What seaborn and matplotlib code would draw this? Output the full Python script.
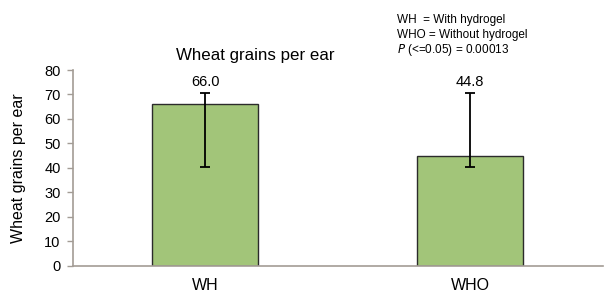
import pandas as pd
import matplotlib.pyplot as plt
import seaborn as sns

# Data
treatments = ['WH', 'WHO']
grains = [66.0, 44.8]
err_low = [25.5, 4.3]
err_high = [4.6, 25.8]
value_labels = ['66.0', '44.8']

df = pd.DataFrame({'treatment': treatments, 'grains': grains})

sns.set_style('white', {'text.color': 'black', 'axes.labelcolor': 'black',
                        'xtick.color': 'black', 'ytick.color': 'black'})
plt.rcParams['font.family'] = ['Liberation Sans', 'DejaVu Sans']

AXIS_COL = '#A39C95'
BAR_COL = '#A2C579'

fig = plt.figure(figsize=(6.04, 2.98), dpi=100)
ax = fig.add_axes([0.1209, 0.1074, 0.877, 0.6577])

sns.barplot(data=df, x='treatment', y='grains', color=BAR_COL, width=0.4,
            edgecolor='#2b2b2b', linewidth=1.0, saturation=1, errorbar=None, ax=ax)
ax.errorbar(range(len(treatments)), grains, yerr=[err_low, err_high], fmt='none',
            ecolor='black', elinewidth=1.3, capsize=3.5, capthick=1.3)

for i, (v, hi, lab) in enumerate(zip(grains, err_high, value_labels)):
    ax.annotate(lab, (i, v + hi), xytext=(0, 3), textcoords='offset points',
                ha='center', va='bottom', fontsize=10.5)

ax.set_xlim(-0.5, 1.5)
ax.set_ylim(0, 80)
ax.set_yticks(range(0, 81, 10))
ax.tick_params(axis='y', labelsize=10.5, length=4, width=1, color=AXIS_COL,
               labelcolor='black', direction='out', left=True, pad=5)
ax.set_xticks([-0.5, 0.5, 1.5], minor=True)
ax.tick_params(axis='x', which='major', length=0, labelsize=11.5, pad=9, labelcolor='black')
ax.tick_params(axis='x', which='minor', length=4, width=1, color=AXIS_COL, direction='out')
ax.set_xlabel('')
ax.set_ylabel('Wheat grains per ear', fontsize=11.5)
ax.yaxis.set_label_coords(-0.088, 0.5)

for s in ['top', 'right']:
    ax.spines[s].set_visible(False)
for s in ['left', 'bottom']:
    ax.spines[s].set_color(AXIS_COL)
    ax.spines[s].set_linewidth(1.2)

fig.text(0.422, 0.815, 'Wheat grains per ear', ha='center', va='center', fontsize=12.2)
fig.text(0.657, 0.933, 'WH  = With hydrogel', ha='left', va='center', fontsize=8.5)
fig.text(0.657, 0.883, 'WHO = Without hydrogel', ha='left', va='center', fontsize=8.5)
fig.text(0.657, 0.832, r'$P$ (<=0.05) = 0.00013', ha='left', va='center', fontsize=8.5)

plt.savefig('out.png', dpi=100)
